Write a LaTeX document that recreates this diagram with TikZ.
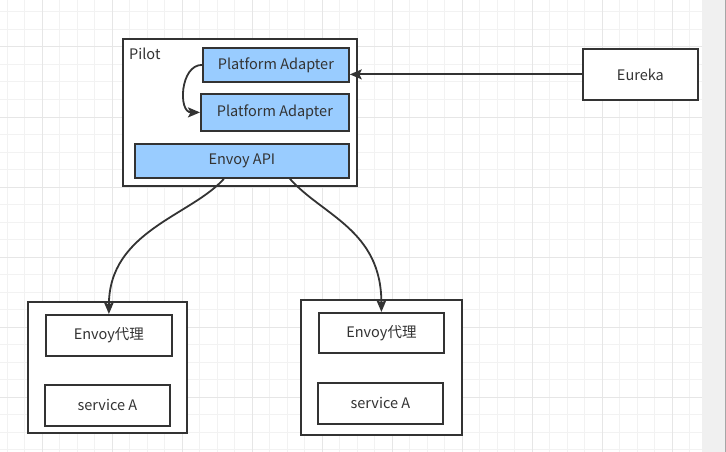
\documentclass[tikz,border=0pt]{standalone}
\usepackage{fontspec}
\setmainfont{Noto Sans CJK SC}
\usetikzlibrary{arrows.meta,calc}
\definecolor{ink}{HTML}{333333}
\definecolor{txt}{HTML}{333333}
\definecolor{fillblue}{HTML}{99CCFF}
\definecolor{gridminor}{HTML}{F2F2F2}
\definecolor{gridmajor}{HTML}{E6E6E6}
\definecolor{panel}{HTML}{F0F0F0}
\tikzset{
  box/.style={draw=ink, line width=1.8pt, fill=white, anchor=north west, inner sep=0pt, text=txt, font=\fontsize{14.5}{16}\selectfont},
  bluebox/.style={box, fill=fillblue},
  frame/.style={draw=ink, line width=1.8pt, fill=white, anchor=north west, inner sep=0pt},
  arr/.style={draw=ink, line width=1.8pt, -{Stealth[length=12pt,width=10pt,inset=2.5pt]}},
  lbl/.style={text=txt, font=\fontsize{14.5}{16}\selectfont, inner sep=0pt}
}
\begin{document}
\begin{tikzpicture}[x=1pt,y=-1pt]
\useasboundingbox (0,0) rectangle (726,452);
% background
\fill[white] (0,0) rectangle (726,452);
\foreach \i in {0,...,40} {
  \draw[gridminor, line width=1pt] ({7+17.5*\i},0) -- ({7+17.5*\i},452);
}
\foreach \j in {0,...,25} {
  \draw[gridminor, line width=1pt] (0,{12+17.5*\j}) -- (702,{12+17.5*\j});
}
\foreach \i in {0,...,9} {
  \draw[gridmajor, line width=1pt] ({42+70*\i},0) -- ({42+70*\i},452);
}
\foreach \j in {0,...,6} {
  \draw[gridmajor, line width=1pt] (0,{47+70*\j}) -- (702,{47+70*\j});
}
\fill[panel] (702,0) rectangle (726,452);
\draw[gray!70, line width=1pt] (725.5,0) -- (725.5,452);

% Pilot
\node[frame, minimum width=234pt, minimum height=147pt] (pilot) at (122,38) {};
\node[lbl, anchor=west] (pilotlbl) at (129,54) {Pilot};
\node[bluebox, minimum width=146pt, minimum height=34pt] (pa1) at (202,47) {Platform Adapter};
\node[bluebox, minimum width=148pt, minimum height=37pt] (pa2) at (200,93) {Platform Adapter};
\node[bluebox, minimum width=214pt, minimum height=34pt] (api) at (134,143) {Envoy API};

% Eureka
\node[box, minimum width=115pt, minimum height=51pt] (eu) at (582,48) {Eureka};

% services
\node[frame, minimum width=159pt, minimum height=131pt] (svc1) at (27,301) {};
\node[box, minimum width=126pt, minimum height=41pt] (ev1) at (45,314) {Envoy代理};
\node[box, minimum width=125pt, minimum height=41pt] (sa1) at (44,384) {service A};
\node[frame, minimum width=161pt, minimum height=135pt] (svc2) at (300,299) {};
\node[box, minimum width=125pt, minimum height=40pt] (ev2) at (318,312) {Envoy代理};
\node[box, minimum width=125pt, minimum height=41pt] (sa2) at (317,382) {service A};

% connectors
\draw[arr] (eu.west) -- (pa1.east |- eu.west);
\draw[arr] (pa1.west) .. controls +(-22,0) and +(-22,0) .. (pa2.west);
\draw[arr] ($(api.south)+(-18,0)$) .. controls +(-33,37) and +(0,-83) .. (ev1.north);
\draw[arr] ($(api.south)+(48,0)$) .. controls +(33,37) and +(0,-82) .. (ev2.north);
\end{tikzpicture}
\end{document}
